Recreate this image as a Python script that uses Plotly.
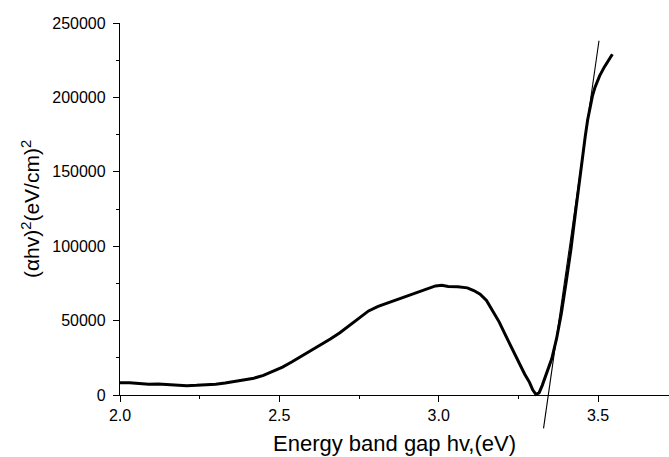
import plotly.graph_objects as go

# ---- data ----
energy = [2.00, 2.03, 2.06, 2.09, 2.12, 2.15, 2.18, 2.21, 2.24, 2.27, 2.30, 2.33, 2.36, 2.39,
          2.42, 2.45, 2.48, 2.51, 2.54, 2.57, 2.60, 2.63, 2.66, 2.69, 2.72, 2.75, 2.78, 2.81,
          2.84, 2.87, 2.90, 2.93, 2.96, 2.99, 3.01, 3.03, 3.06, 3.09, 3.11, 3.13, 3.15, 3.17,
          3.19, 3.21, 3.23, 3.25, 3.27, 3.285, 3.295, 3.305, 3.315, 3.325, 3.34, 3.355, 3.37,
          3.385, 3.40, 3.415, 3.43, 3.445, 3.46, 3.4675, 3.475, 3.4825, 3.49, 3.4975, 3.505,
          3.52, 3.535, 3.545]
alpha_hv_sq = [8200, 8300, 7800, 7200, 7400, 7000, 6400, 6300, 6500, 6800, 7300, 8000, 9000, 10000,
               11300, 13200, 15800, 18800, 22300, 26000, 29800, 33600, 37600, 41800, 46500, 51500, 56500, 59500,
               61800, 64300, 66600, 68600, 71000, 73300, 73800, 73000, 72800, 72000, 70200, 67800, 63500, 56000,
               49000, 40000, 31500, 22000, 14000, 8500, 3500, 500, 1500, 6500, 15000, 24500, 38000,
               55000, 76000, 98000, 124000, 151000, 174000, 185000, 194000, 201000, 206500, 211000, 214500,
               220500, 225500, 229000]
tangent_x = [3.329, 3.503]
tangent_y = [-22400, 238100]

x_ticks = [2.0, 2.5, 3.0, 3.5]
y_ticks = [0, 50000, 100000, 150000, 200000, 250000]

# ---- geometry ----
W, H = 669, 457
ML, MR, MT, MB = 120, 0, 23, 25
plot_h = H - MT - MB
axis_py = 395                      # pixel row of y = 0
x_range = [2.0, 3.7227]
y_range = [0, 250000]
dom0 = (H - MB - axis_py) / plot_h
px_per_unit = (axis_py - MT) / (y_range[1] - y_range[0])
y2_low = -(H - MB - axis_py) / px_per_unit

FONT = "Liberation Sans, Arial, sans-serif"

fig = go.Figure()
# invisible trace so the visible axes (x / y) get drawn
fig.add_trace(go.Scatter(x=[x_range[0]], y=[y_range[0]], mode="markers",
                         marker=dict(opacity=0), xaxis="x", yaxis="y",
                         showlegend=False, hoverinfo="skip"))
fig.add_trace(go.Scatter(x=energy, y=alpha_hv_sq, mode="lines",
                         line=dict(color="black", width=3),
                         xaxis="x2", yaxis="y2", showlegend=False, hoverinfo="skip"))
fig.add_trace(go.Scatter(x=tangent_x, y=tangent_y, mode="lines",
                         line=dict(color="black", width=1.1),
                         xaxis="x2", yaxis="y2", showlegend=False, hoverinfo="skip"))

axis_common = dict(showline=True, linecolor="black", linewidth=1.3, ticks="outside",
                   ticklen=6, tickwidth=1.3, tickcolor="black", showgrid=False,
                   zeroline=False, tickfont=dict(family=FONT, size=16, color="black"))

fig.update_layout(
    width=W, height=H,
    margin=dict(l=ML, r=MR, t=MT, b=MB),
    paper_bgcolor="white", plot_bgcolor="rgba(0,0,0,0)",
    showlegend=False,
    xaxis=dict(**axis_common, range=x_range, domain=[0, 1], anchor="y",
               tickvals=x_ticks, ticktext=[f"{v:.1f}" for v in x_ticks],
               minor=dict(tickvals=[2.25, 2.75, 3.25], ticklen=3, tickwidth=1.3,
                          tickcolor="black", ticks="outside"),
               title=dict(text="Energy band gap hv,(eV)", standoff=12,
                          font=dict(family=FONT, size=22, color="black"))),
    yaxis=dict(**axis_common, range=y_range, domain=[dom0, 1], anchor="x",
               tickvals=y_ticks, ticktext=[str(v) for v in y_ticks],
               ticklabelstandoff=4,
               minor=dict(tickvals=[25000, 75000, 125000, 175000, 225000], ticklen=3,
                          tickwidth=1.3, tickcolor="black", ticks="outside"),
               title=dict(text="(αhv)<sup>2</sup>(eV/cm)<sup>2</sup>", standoff=6,
                          font=dict(family=FONT, size=21, color="black"))),
    xaxis2=dict(range=x_range, domain=[0, 1], anchor="y2", visible=False),
    yaxis2=dict(range=[y2_low, y_range[1]], domain=[0, 1], anchor="x2", visible=False),
)

fig.write_html("out.html")
